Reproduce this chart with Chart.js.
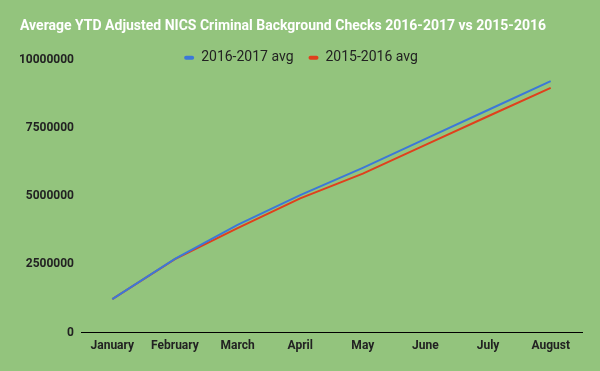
<!DOCTYPE html>
<html>
<head>
<meta charset="utf-8">
<script src="https://cdn.jsdelivr.net/npm/chart.js@4"></script>
<style>
    html, body { margin: 0; padding: 0; background: #93c47d; }
    #wrap { width: 600px; height: 371px; }
</style>
</head>
<body>
<div id="wrap"><canvas id="myChart" width="600" height="371"></canvas></div>
<script>
const months = ["January", "February", "March", "April", "May", "June", "July", "August"];
const avg1617 = [1230000, 2700000, 3950000, 5040000, 6040000, 7100000, 8160000, 9220000];
const avg1516 = [1230000, 2690000, 3830000, 4920000, 5830000, 6880000, 7930000, 8970000];
const yTicks = [0, 2500000, 5000000, 7500000, 10000000];

const BLUE = '#3c78d8';
const RED = '#e0401c';
const SQUEEZE = 15;

// legend sits on top of the plot area, like the sheet chart
const legendSqueeze = {
    id: 'legendSqueeze',
    beforeInit(chart) {
        const lg = chart.legend;
        const fit = lg.fit;
        const draw = lg.draw;
        lg.fit = function () {
            fit.call(this);
            this.height -= SQUEEZE;
        };
        lg.draw = function () {
            this.height += SQUEEZE; this.bottom += SQUEEZE;
            draw.call(this);
            this.height -= SQUEEZE; this.bottom -= SQUEEZE;
        };
    }
};

const ctx = document.getElementById('myChart').getContext('2d');
new Chart(ctx, {
    type: 'line',
    data: {
        labels: months,
        datasets: [
            { label: '2016-2017 avg', data: avg1617, borderColor: BLUE, backgroundColor: BLUE, borderWidth: 2, pointRadius: 0, tension: 0 },
            { label: '2015-2016 avg', data: avg1516, borderColor: RED, backgroundColor: RED, borderWidth: 2, pointRadius: 0, tension: 0 }
        ]
    },
    options: {
        responsive: false,
        animation: false,
        layout: { padding: { left: 20, right: 18, top: 0, bottom: 12 } },
        plugins: {
            title: {
                display: true,
                text: 'Average YTD Adjusted NICS Criminal Background Checks 2016-2017 vs 2015-2016',
                align: 'start',
                color: '#ffffff',
                font: { family: 'Roboto', size: 14, weight: 'bold' },
                padding: { top: 18, bottom: 1 }
            },
            legend: {
                display: true,
                position: 'top',
                labels: {
                    color: '#222222',
                    font: { family: 'Roboto', size: 14 },
                    boxWidth: 10,
                    boxHeight: 4,
                    useBorderRadius: true,
                    borderRadius: 2,
                    padding: 15,
                    generateLabels(chart) {
                        return Chart.defaults.plugins.legend.labels.generateLabels(chart).map(l => ({ ...l, lineWidth: 0 }));
                    }
                }
            },
            tooltip: { enabled: false }
        },
        scales: {
            x: {
                offset: true,
                grid: { display: false, drawTicks: false },
                border: { display: true, color: '#000000', width: 1 },
                ticks: { color: '#222222', font: { family: 'Roboto', size: 12, weight: 'bold' }, padding: 6, maxRotation: 0 }
            },
            y: {
                min: 0,
                max: 10000000,
                grid: { display: false, drawTicks: false },
                border: { display: false },
                afterBuildTicks(scale) { scale.ticks = yTicks.map(v => ({ value: v })); },
                afterFit(scale) { scale.width = 61; },
                ticks: { color: '#222222', font: { family: 'Roboto', size: 12, weight: 'bold' }, padding: 7, callback: v => String(v) }
            }
        }
    },
    plugins: [legendSqueeze]
});
</script>
</body>
</html>
